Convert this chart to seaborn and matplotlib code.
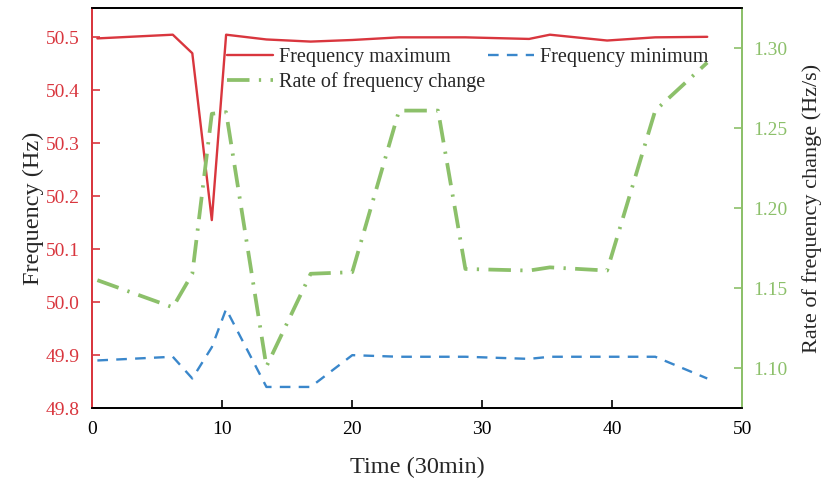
import numpy as np
import pandas as pd
import matplotlib
matplotlib.use('Agg')
import matplotlib.pyplot as plt
import seaborn as sns

# data
time = [0.4, 6.2, 7.7, 9.2, 10.3, 13.4, 16.8, 20.0, 23.6, 26.6, 28.7, 33.6, 35.2, 39.6, 43.3, 47.3]
freq_max = [50.498, 50.505, 50.470, 50.155, 50.505, 50.496, 50.492, 50.495, 50.500, 50.500,
            50.500, 50.497, 50.505, 50.494, 50.500, 50.501]
freq_min = [49.890, 49.897, 49.856, 49.915, 49.987, 49.840, 49.840, 49.900, 49.897, 49.897,
            49.897, 49.893, 49.897, 49.897, 49.897, 49.856]
rocof = [1.155, 1.138, 1.159, 1.259, 1.260, 1.101, 1.159, 1.160, 1.261, 1.261,
         1.162, 1.161, 1.163, 1.161, 1.261, 1.291]

red = '#d9363e'
blue = '#3a87cb'
green = '#8cc06a'

sns.set_style('ticks')
plt.rcParams['font.family'] = ['Liberation Serif', 'DejaVu Serif']
plt.rcParams['xtick.direction'] = 'in'
plt.rcParams['ytick.direction'] = 'in'

df = pd.DataFrame({'t': time, 'fmax': freq_max, 'fmin': freq_min, 'rocof': rocof})

fig = plt.figure(figsize=(8.23, 4.83), dpi=100)
ax = fig.add_axes([0.112, 0.155, 0.79, 0.828])
ax2 = ax.twinx()

sns.lineplot(data=df, x='t', y='fmax', ax=ax, color=red, lw=1.7, label='Frequency maximum', legend=False)
sns.lineplot(data=df, x='t', y='fmin', ax=ax, color=blue, lw=1.7, label='Frequency minimum', legend=False)
ax.lines[1].set_dashes((4.5, 3.5))
sns.lineplot(data=df, x='t', y='rocof', ax=ax2, color=green, lw=2.7,
             label='Rate of frequency change', legend=False)
ax2.lines[0].set_dashes((6, 2.5, 0.6, 2.5))

ax.set_xlim(0, 50)
ax.set_ylim(49.8, 50.555)
ax2.set_ylim(1.075, 1.325)
ax.set_xticks([0, 10, 20, 30, 40, 50])
ax.set_yticks(np.round(np.arange(49.8, 50.51, 0.1), 1))
ax2.set_yticks([1.10, 1.15, 1.20, 1.25, 1.30])
ax.yaxis.set_major_formatter(matplotlib.ticker.FormatStrFormatter('%.1f'))
ax2.yaxis.set_major_formatter(matplotlib.ticker.FormatStrFormatter('%.2f'))

ax.set_xlabel('Time (30min)', fontsize=17.5, labelpad=14)
ax.set_ylabel('Frequency (Hz)', fontsize=17.5, labelpad=1)
ax2.set_ylabel('Rate of frequency change (Hz/s)', fontsize=16, labelpad=10)

ax.tick_params(axis='x', labelsize=14, length=6, width=1.2, colors='black', pad=9)
ax.tick_params(axis='y', labelsize=14, length=6, width=1.2, colors=red, pad=9)
ax2.tick_params(axis='y', labelsize=14, length=6, width=1.2, colors=green, pad=8)

for a in (ax, ax2):
    for s in a.spines.values():
        s.set_linewidth(1.3)
        s.set_color('black')
    a.spines['left'].set_color(red)
    a.spines['right'].set_color(green)

h1, l1 = ax.get_legend_handles_labels()
h2, l2 = ax2.get_legend_handles_labels()
handles = [h1[0], h2[0], h1[1]]
labels = [l1[0], l2[0], l1[1]]
ax.legend(handles, labels, ncol=2, frameon=False, fontsize=14.5,
          loc='upper left', bbox_to_anchor=(0.195, 0.92),
          handlelength=2.3, handletextpad=0.3, columnspacing=0.1,
          labelspacing=0.25, borderaxespad=0)

fig.savefig('out.png', dpi=100)
